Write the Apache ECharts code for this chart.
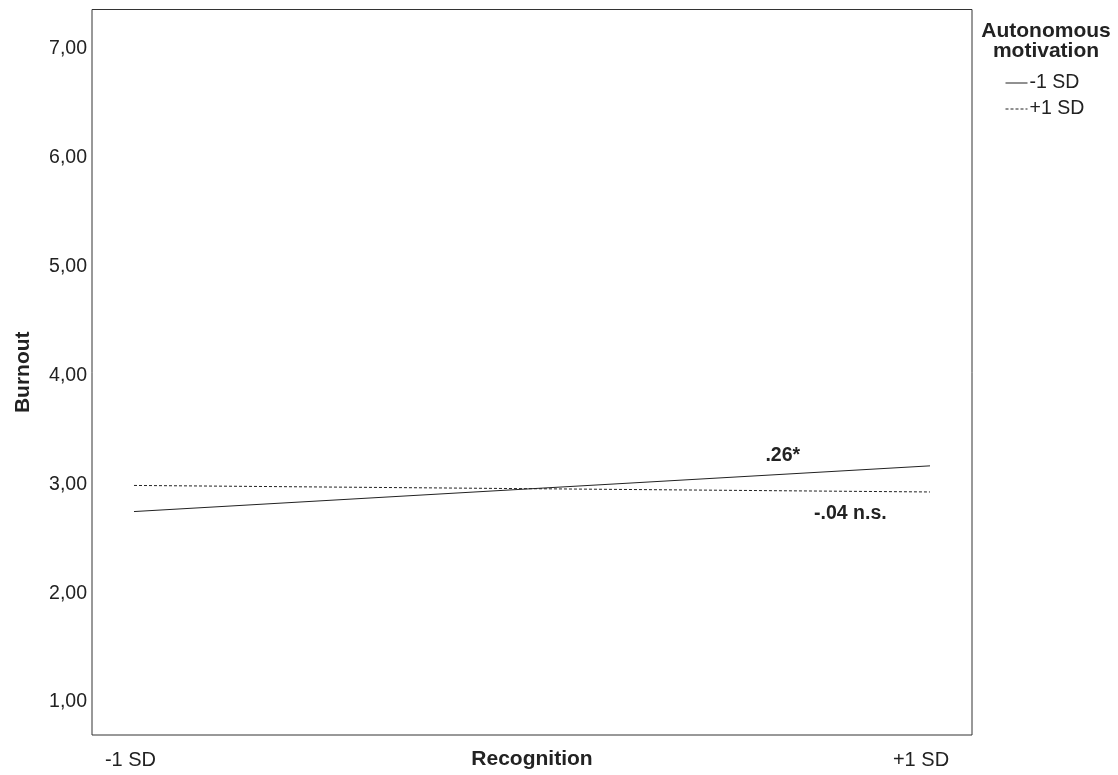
<!DOCTYPE html>
<html>
<head>
<meta charset="utf-8">
<script src="https://cdn.jsdelivr.net/npm/echarts@6/dist/echarts.min.js"></script>
<style>
  html, body { margin: 0; padding: 0; background: #fff; }
  #chart { width: 1118px; height: 775px; }
</style>
</head>
<body>
<div id="chart"></div>
<script>
// Simple slopes: burnout by recognition at low / high autonomous motivation
const xValues = [-1, 1];
const xLabels = ['-1 SD', '+1 SD'];
const yTicks = [1, 2, 3, 4, 5, 6, 7];
const lowMotivation = [2.75, 3.17];   // -1 SD
const highMotivation = [2.99, 2.93];  // +1 SD
const seriesNames = ['-1 SD', '+1 SD'];
const slopeLabels = ['.26*', '-.04 n.s.'];
// where each slope label sits, in data units
const slopeLabelAt = [[0.63, 3.26], [0.80, 2.728]];

const FONT = 'Liberation Sans, Arial, sans-serif';
const INK = '#222';

const chart = echarts.init(document.getElementById('chart'));

function pairs(ys) {
  return ys.map((y, i) => [xValues[i], y]);
}

function slopeMark(i) {
  return {
    silent: true,
    symbol: 'circle',
    symbolSize: 0,
    label: {
      show: true,
      position: 'inside',
      formatter: slopeLabels[i],
      fontFamily: FONT,
      fontSize: 19.5,
      fontWeight: 'bold',
      color: INK
    },
    data: [{ coord: slopeLabelAt[i] }]
  };
}

chart.setOption({
  animation: false,
  backgroundColor: '#fff',
  textStyle: { fontFamily: FONT },
  title: {
    text: 'Autonomous\nmotivation',
    left: 1041,
    top: 16,
    textAlign: 'center',
    textStyle: {
      fontFamily: FONT,
      fontSize: 21,
      fontWeight: 'bold',
      color: INK,
      lineHeight: 20,
      align: 'center'
    }
  },
  legend: {
    orient: 'vertical',
    left: 1005,
    top: 73,
    padding: 0,
    itemWidth: 22,
    itemHeight: 13,
    itemGap: 6,
    itemStyle: { opacity: 0 },
    lineStyle: { width: 1, color: INK },
    textStyle: { fontFamily: FONT, fontSize: 19.5, color: INK, padding: [0, 0, 0, -3] },
    data: seriesNames
  },
  grid: {
    left: 92,
    right: 146,
    top: 9.5,
    bottom: 40,
    show: true,
    borderColor: '#333',
    borderWidth: 1,
    containLabel: false,
    outerBoundsMode: 'none'
  },
  xAxis: {
    type: 'value',
    min: -1.1055,
    max: 1.1055,
    name: 'Recognition',
    nameLocation: 'middle',
    nameGap: 14,
    nameMoveOverlap: false,
    nameTextStyle: { fontFamily: FONT, fontSize: 21, fontWeight: 'bold', color: INK },
    axisLine: { show: false },
    axisTick: { show: false },
    splitLine: { show: false },
    axisLabel: {
      customValues: xValues,
      formatter: v => (v < 0 ? '{lo|' : '{hi|') + (xLabels[xValues.indexOf(v)] || '') + '}',
      fontFamily: FONT,
      fontSize: 20,
      color: INK,
      margin: 15,
      rich: {
        lo: { fontFamily: FONT, fontSize: 20, color: INK, padding: [0, 7, 0, 0] },
        hi: { fontFamily: FONT, fontSize: 20, color: INK, padding: [0, 18, 0, 0] }
      }
    }
  },
  yAxis: {
    type: 'value',
    min: 0.697,
    max: 7.363,
    name: 'Burnout',
    nameLocation: 'middle',
    nameRotate: 90,
    nameGap: 58,
    nameMoveOverlap: false,
    nameTextStyle: { fontFamily: FONT, fontSize: 21, fontWeight: 'bold', color: INK },
    axisLine: { show: false },
    axisTick: { show: false },
    splitLine: { show: false },
    axisLabel: {
      customValues: yTicks,
      formatter: v => v.toFixed(2).replace('.', ','),
      fontFamily: FONT,
      fontSize: 19.5,
      color: INK,
      margin: 5
    }
  },
  series: [
    {
      name: seriesNames[0],
      type: 'line',
      symbol: 'none',
      lineStyle: { color: INK, width: 1 },
      itemStyle: { color: INK },
      data: pairs(lowMotivation),
      markPoint: slopeMark(0)
    },
    {
      name: seriesNames[1],
      type: 'line',
      symbol: 'none',
      lineStyle: { color: INK, width: 1, type: [3, 2] },
      itemStyle: { color: INK },
      data: pairs(highMotivation),
      markPoint: slopeMark(1)
    }
  ]
});
</script>
</body>
</html>
